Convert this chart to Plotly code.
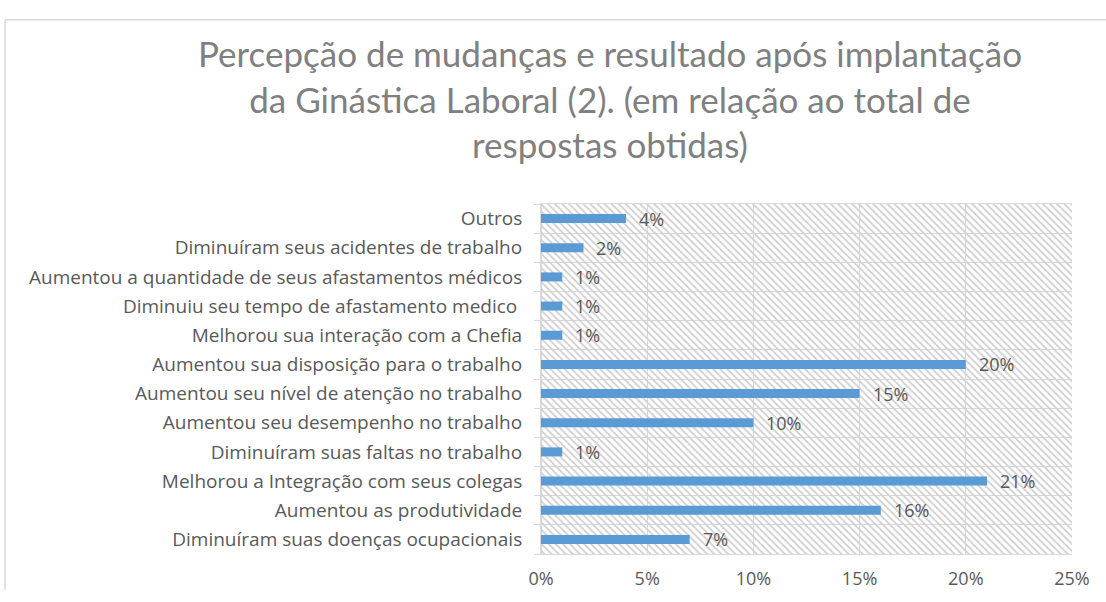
import plotly.graph_objects as go

categories = [
    "Diminuíram suas doenças ocupacionais",
    "Aumentou as produtividade",
    "Melhorou a Integração com seus colegas",
    "Diminuíram suas faltas no trabalho",
    "Aumentou seu desempenho no trabalho",
    "Aumentou seu nível de atenção no trabalho",
    "Aumentou sua disposição para o trabalho",
    "Melhorou sua interação com a Chefia",
    "Diminuiu seu tempo de afastamento medico\u00a0",
    "Aumentou a quantidade de seus afastamentos médicos",
    "Diminuíram seus acidentes de trabalho",
    "Outros",
]
values = [7, 16, 21, 1, 10, 15, 20, 1, 1, 1, 2, 4]
x_ticks = [0, 5, 10, 15, 20, 25]
x_ticktext = ["0%", "5%", "10%", "15%", "20%", "25%"]
x_max = 25

title_text = ("Percepção de mudanças e resultado após implantação<br>"
              "da Ginástica Laboral (2). (em relação ao total de<br>"
              "respostas obtidas)")

TITLE_FONT = "Lato, Calibri, sans-serif"
FONT = "'Open Sans', Calibri, sans-serif"
W, H = 1106, 602
ml, mr, mt, mb = 541, 34, 204, 37
pw, ph = W - ml - mr, H - mt - mb

fig = go.Figure()

# hatched plot-area background (drawn on the main, hidden axis)
fig.add_trace(go.Bar(
    x=[x_max], y=[0.5], width=[1], orientation="h",
    xaxis="x", yaxis="y",
    marker=dict(color="rgba(255,255,255,0)", line=dict(width=0),
                pattern=dict(shape="\\", fgcolor="#d0d0d0", bgcolor="rgba(0,0,0,0)",
                             size=5, solidity=0.35, fillmode="replace")),
    hoverinfo="skip", showlegend=False,
))

fig.add_trace(go.Bar(
    x=values, y=categories, orientation="h",
    xaxis="x", yaxis="y2",
    marker=dict(color="#5B9BD5", line=dict(width=0)),
    showlegend=False,
))

for v, c in zip(values, categories):
    fig.add_annotation(x=v, y=c, xref="x", yref="y2", text=f"{v}%",
                       showarrow=False, xanchor="left", xshift=11,
                       font=dict(family=FONT, size=18, color="#595959"))

# outer chart border (cropped Excel chart frame)
x0 = (5 - ml) / pw
y_top = (H - 14 - mb) / ph
fig.add_shape(type="line", xref="paper", yref="paper", x0=x0, x1=(W - ml) / pw,
              y0=y_top, y1=y_top, line=dict(color="#d9d9d9", width=1.5))
fig.add_shape(type="line", xref="paper", yref="paper", x0=x0, x1=x0,
              y0=y_top, y1=-mb / ph, line=dict(color="#d9d9d9", width=1.5))

fig.update_layout(
    width=W, height=H,
    margin=dict(l=ml, r=mr, t=mt, b=mb),
    paper_bgcolor="white", plot_bgcolor="white",
    bargap=0.69,
    title=dict(text=title_text, x=610 / W, xref="container", xanchor="center",
               y=1 - 67 / H, yref="container", yanchor="top",
               font=dict(family=TITLE_FONT, size=35, color="#808080")),
    xaxis=dict(range=[0, x_max], tickvals=x_ticks, ticktext=x_ticktext,
               showgrid=True, gridcolor="#d9d9d9", gridwidth=1,
               zeroline=True, zerolinecolor="#d9d9d9",
               showline=True, linecolor="#d9d9d9", mirror=True,
               ticks="", ticklabelstandoff=8,
               tickfont=dict(family=FONT, size=18, color="#595959"),
               fixedrange=True),
    yaxis=dict(range=[0, 1], visible=False, fixedrange=True),
    yaxis2=dict(overlaying="y", side="left", type="category",
                categoryorder="array", categoryarray=categories,
                range=[-0.5, len(categories) - 0.5], autorange=False,
                tickson="boundaries", ticks="outside", ticklen=6,
                tickcolor="#d9d9d9", showgrid=True, gridcolor="#d9d9d9",
                showline=True, linecolor="#d9d9d9",
                ticklabelstandoff=14,
                tickfont=dict(family=FONT, size=19, color="#595959"),
                fixedrange=True),
)

fig.write_html("out.html", config={"displayModeBar": False},
               post_script="document.body.style.margin='0';")
